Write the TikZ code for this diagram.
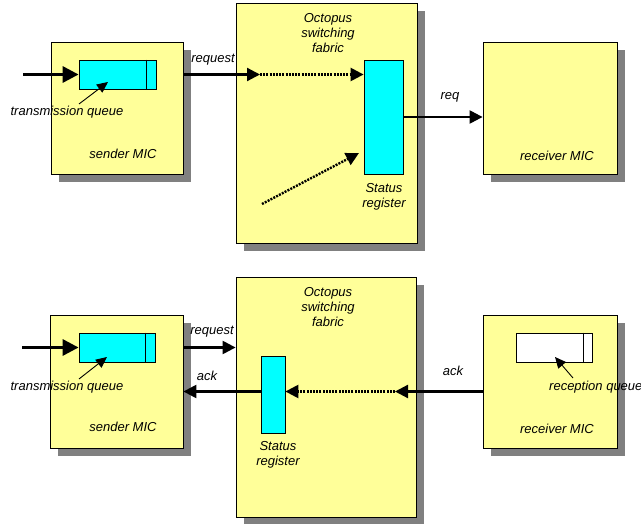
\documentclass[tikz,border=0pt]{standalone}
\usepackage{fontspec}
\setmainfont{Liberation Sans}
\usetikzlibrary{arrows.meta,shadows}
\definecolor{boxyellow}{HTML}{FFFF99}
\definecolor{regcyan}{HTML}{00FFFF}
\definecolor{shadowgray}{HTML}{808080}
\begin{document}
\begin{tikzpicture}[x=1pt,y=-1pt,
  font=\fontsize{13}{15}\selectfont\itshape,
  micbox/.style={draw=black, line width=0.8pt, fill=boxyellow, inner sep=0pt,
    drop shadow={shadow xshift=8pt, shadow yshift=-8pt, fill=shadowgray, opacity=1}},
  queuebox/.style={draw=black, line width=0.8pt, fill=regcyan, inner sep=0pt,
    minimum width=77pt, minimum height=29pt},
  regbox/.style={draw=black, line width=0.8pt, fill=regcyan, inner sep=0pt},
  txt/.style={inner sep=0pt, align=center},
  inarrow/.style={line width=3.2pt, -{Triangle[length=16pt,width=16pt]}},
  conn/.style={line width=2.2pt, -{Triangle[length=13pt,width=13pt]}},
  dotconn/.style={line width=2.4pt, dash pattern=on 2pt off 1.2pt, -{Triangle[length=13pt,width=13pt]}},
  thinarrow/.style={line width=0.9pt, -{Triangle[length=11pt,width=10pt]}}
]
\useasboundingbox (0,0) rectangle (641,524);

% ---------- top scenario ----------
\node[micbox, minimum width=132pt, minimum height=132pt] (s1) at (117,108) {};
\node[micbox, minimum width=181pt, minimum height=240pt] (f1) at (326.5,123) {};
\node[micbox, minimum width=134pt, minimum height=132pt] (r1) at (550,108) {};

\node[queuebox] (q1) at (117.5,74.5) {};
\draw[line width=0.8pt] ([xshift=-10pt]q1.north east) -- ([xshift=-10pt]q1.south east);
\node[regbox, minimum width=39pt, minimum height=114pt] (reg1) at (383.5,117) {};

\node[txt] (lt1) at (67,112) {transmission queue};
\node[txt] (ls1) at (123,154) {sender MIC};
\node[txt] (lr1) at (557,156) {receiver MIC};
\node[txt] (lf1) at (328,33) {Octopus\\switching\\fabric};
\node[txt] (lreg1) at (384,197) {Status\\register};
\node[txt] (lrq1) at (213,60) {request};
\node[txt] (lreq1) at (450,97) {req};

\coordinate (in1) at (23,74.5);
\coordinate (f1in) at (260,74.5);
\coordinate (d1s) at (262,204);
\coordinate (d1e) at (359,153);
\coordinate (t1s) at (79,104);
\coordinate (t1e) at (108,82);

\draw[inarrow] (in1) -- (q1.west);
\draw[conn] (s1.east |- f1in) -- (f1in);
\draw[dotconn] (f1in) -- (f1in -| reg1.west);
\draw[dotconn] (d1s) -- (d1e);
\draw[conn] (reg1.east) -- (reg1.east -| r1.west);
\draw[thinarrow] (t1s) -- (t1e);

% ---------- bottom scenario ----------
\node[micbox, minimum width=133pt, minimum height=133pt] (s2) at (116.5,381.5) {};
\node[micbox, minimum width=180pt, minimum height=240pt] (f2) at (326,397) {};
\node[micbox, minimum width=134pt, minimum height=133pt] (r2) at (550,381.5) {};

\node[queuebox, minimum width=76pt] (q2) at (117,347.5) {};
\draw[line width=0.8pt] ([xshift=-10pt]q2.north east) -- ([xshift=-10pt]q2.south east);
\node[queuebox, minimum width=76pt, fill=white] (q3) at (554,347.5) {};
\draw[line width=0.8pt] ([xshift=-9pt]q3.north east) -- ([xshift=-9pt]q3.south east);
\node[regbox, minimum width=24pt, minimum height=77pt] (reg2) at (273,394.5) {};

\node[txt] (lt2) at (67,387) {transmission queue};
\node[txt] (ls2) at (123,427) {sender MIC};
\node[txt] (lr2) at (557,429) {receiver MIC};
\node[txt, anchor=west] (lrc) at (549,387) {reception queue};
\node[txt] (lf2) at (328,307) {Octopus\\switching\\fabric};
\node[txt] (lreg2) at (278,455) {Status\\register};
\node[txt] (lrq2) at (212,332) {request};
\node[txt] (lack1) at (207,376) {ack};
\node[txt] (lack2) at (453,371) {ack};

\coordinate (in2) at (22,347.5);
\coordinate (ackline) at (0,391.5);
\coordinate (f2in) at (395,391.5);
\coordinate (t2s) at (79,379);
\coordinate (t2e) at (107,357);
\coordinate (t3s) at (573,378);
\coordinate (t3e) at (555,357);

\draw[inarrow] (in2) -- (q2.west);
\draw[conn] (s2.east |- q2) -- (f2.west |- q2);
\draw[conn] (r2.west |- ackline) -- (f2in);
\draw[dotconn] (f2in) -- (reg2.east |- f2in);
\draw[conn] (reg2.west |- f2in) -- (s2.east |- f2in);
\draw[thinarrow] (t2s) -- (t2e);
\draw[thinarrow] (t3s) -- (t3e);
\end{tikzpicture}
\end{document}
